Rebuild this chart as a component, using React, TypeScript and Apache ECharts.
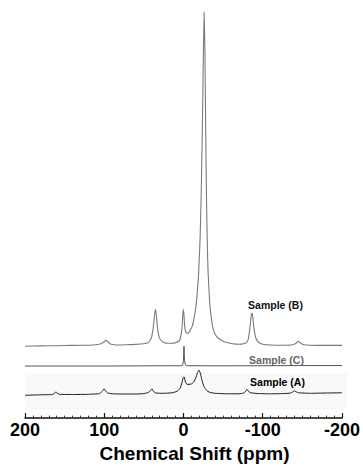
import React, { useEffect, useRef } from "react";
import * as echarts from "echarts";

// Chemical shift (ppm) and intensity (above each trace's own baseline)
const sampleBPpm = [200, 180, 160, 140, 120, 110, 104, 100, 98, 96, 93, 88, 80, 70, 60, 50, 45, 42, 40, 38, 36.5, 35.5, 34.5, 33, 31, 28, 24, 20, 15, 10, 6, 4, 2, 1, 0.2, -0.6, -1.5, -3, -5, -7, -9, -11, -13, -15, -17, -19, -21, -22.5, -24, -25, -26, -27, -28, -29, -30, -31, -33, -35, -37, -40, -44, -50, -56, -62, -70, -76, -80, -82, -84, -85.5, -86.5, -87.5, -89, -91, -94, -100, -110, -125, -138, -142, -145, -148, -152, -160, -180, -200];
const sampleBIntensity = [0, 0.3, 0.5, 0.8, 1, 1.5, 2.5, 4.5, 6, 5, 2.5, 1.5, 1.2, 1.5, 1.8, 2.5, 3.5, 6, 10, 20, 32, 37, 33, 20, 10, 5.5, 3.5, 3, 3, 3.5, 5, 8, 17, 30, 37, 32, 20, 14, 13, 14, 17, 20, 27, 36, 50, 72, 110, 160, 230, 290, 337, 300, 220, 150, 105, 75, 45, 29, 19, 12, 8, 5, 3.5, 2.5, 2, 2.5, 4, 8, 20, 31, 33.5, 29, 18, 9, 4.5, 2, 1.2, 1, 1.5, 3, 5, 3, 1.5, 1, 0.8, 0.8];

const sampleCPpm = [200, 150, 100, 50, 10, 3, 1, 0, -0.6, -1.2, -2.5, -4, -50, -100, -150, -200];
const sampleCIntensity = [0, 0, 0, 0.2, 0.3, 0.3, 1, 6, 20, 6, 1, 0.3, 0.2, 0.3, 0.5, 0.5];

const sampleAPpm = [200, 180, 165, 162, 161, 159.5, 156, 140, 120, 106, 102.5, 100, 98.5, 96, 90, 75, 60, 50, 44, 41.5, 40, 38, 35, 25, 15, 8, 4, 2, 0.5, -0.8, -2.5, -4.5, -7, -10, -13, -15.5, -17.5, -19.5, -21.5, -23.5, -26, -29, -33, -40, -55, -70, -76, -78.5, -80, -82, -85, -95, -110, -125, -135, -138, -140, -142, -146, -160, -180, -200];
const sampleAIntensity = [-0.5, 0, 0.3, 2, 3, 1.5, 0.5, 0.3, 0.5, 1.2, 3.5, 6, 4, 2, 1, 0.8, 0.8, 1.2, 2.5, 4.5, 6, 3.5, 1.8, 1.5, 2, 3.5, 7, 12, 17, 18, 13, 10.5, 10.5, 11, 13, 17, 22, 25, 21, 14, 8, 4.5, 2.5, 1.5, 1, 1, 1.8, 3.5, 5.5, 3.5, 2, 1.2, 1, 1.2, 1.7, 3, 4, 3, 2, 1.5, 1.8, 2];

// vertical offsets of the stacked traces
const offsetB = 72.5;
const offsetC = 52.5;
const offsetA = 23.5;

const sampleLabels = ["Sample (B)", "Sample (C)", "Sample (A)"];

function toSeries(ppm: number[], inten: number[], offset: number) {
  return ppm.map((p, i) => [p, inten[i] + offset]);
}

export default function App() {
  const ref = useRef<HTMLDivElement>(null);
  useEffect(() => {
    document.body.style.margin = "0";
    if (!ref.current) return;
    const chart = echarts.init(ref.current, undefined, { renderer: "svg" });
    const font = "'Liberation Sans', Arial, Helvetica, sans-serif";
    chart.setOption({
      animation: false,
      backgroundColor: "#ffffff",
      grid: { left: 25, right: 16.5, top: 10, bottom: 46.5, containLabel: false },
      xAxis: {
        type: "value",
        inverse: true,
        min: -200,
        max: 200,
        interval: 100,
        name: "Chemical Shift (ppm)",
        nameLocation: "middle",
        nameGap: 24,
        nameTextStyle: { fontFamily: font, fontWeight: "bold", fontSize: 19, color: "#000", padding: [0, 0, 0, 22] },
        axisLine: { show: true, lineStyle: { color: "#111", width: 1.5 } },
        axisTick: { show: true, inside: true, length: 5, lineStyle: { color: "#111", width: 1.2 } },
        minorTick: { show: true, splitNumber: 10, length: 2.5, lineStyle: { color: "#333", width: 1 } },
        splitLine: { show: false },
        axisLabel: {
          margin: 3,
          fontFamily: font,
          fontWeight: "bold",
          fontSize: 18,
          color: "#000",
          formatter: (v: number) => String(v),
        },
      },
      yAxis: {
        type: "value",
        min: 0,
        max: 411.5,
        show: false,
      },
      graphic: [
        { type: "rect", z: -1, shape: { x: 25, y: 373, width: 322, height: 37 }, style: { fill: "#f9f9f9" } },
        { type: "text", x: 275.5, y: 304.5, style: { text: sampleLabels[0], fontFamily: font, fontWeight: "bold", fontSize: 10.5, fill: "#111", align: "center", verticalAlign: "middle" } },
        { type: "text", x: 276.5, y: 360, style: { text: sampleLabels[1], fontFamily: font, fontWeight: "bold", fontSize: 10.5, fill: "#666", align: "center", verticalAlign: "middle" } },
        { type: "text", x: 277.5, y: 381.5, style: { text: sampleLabels[2], fontFamily: font, fontWeight: "bold", fontSize: 10.5, fill: "#000", align: "center", verticalAlign: "middle" } },
      ],
      series: [
        {
          name: sampleLabels[0],
          type: "line",
          data: toSeries(sampleBPpm, sampleBIntensity, offsetB),
          showSymbol: false,
          smooth: 0.15,
          lineStyle: { color: "#7a7a7a", width: 1.1 },
        },
        {
          name: sampleLabels[1],
          type: "line",
          data: toSeries(sampleCPpm, sampleCIntensity, offsetC),
          showSymbol: false,
          lineStyle: { color: "#555", width: 1 },
        },
        {
          name: sampleLabels[2],
          type: "line",
          data: toSeries(sampleAPpm, sampleAIntensity, offsetA),
          showSymbol: false,
          smooth: 0.15,
          lineStyle: { color: "#1a1a1a", width: 1 },
        },
      ],
    });
    return () => chart.dispose();
  }, []);
  return <div ref={ref} style={{ width: 363, height: 468 }} />;
}
